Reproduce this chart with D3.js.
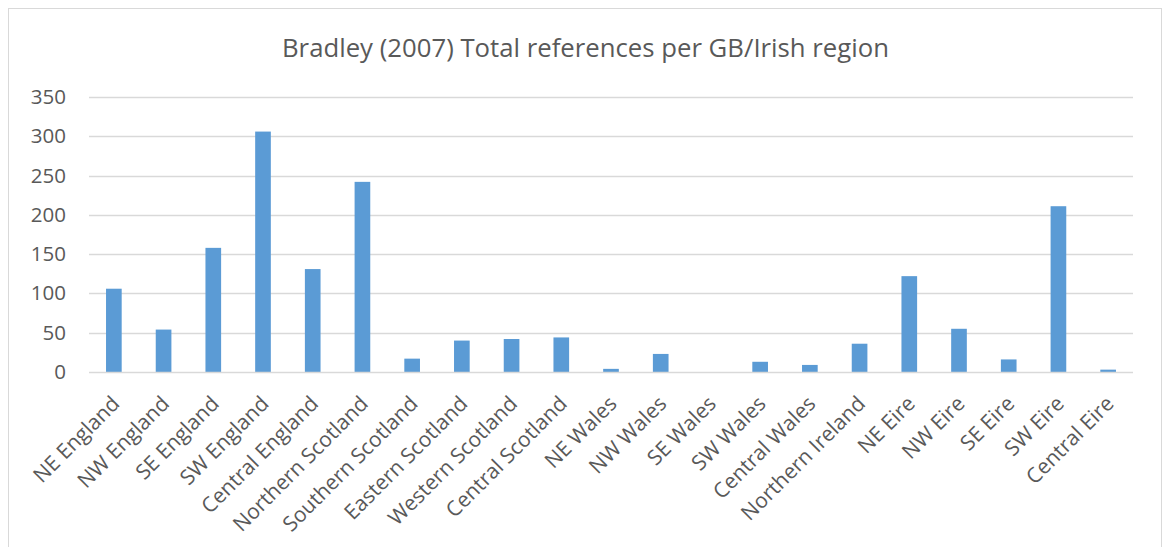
<!DOCTYPE html>
<html>
<head>
<meta charset="utf-8">
<script src="https://cdn.jsdelivr.net/npm/d3@7"></script>
<style>
  html, body { margin: 0; padding: 0; background: #fff; }
  svg { display: block; }
  text { font-family: "Open Sans", "Noto Sans", sans-serif; fill: #595959; }
</style>
</head>
<body>
<svg id="chart" width="1167" height="547"></svg>
<script>
// Regions of Great Britain and Ireland
const regions = [
  "NE England", "NW England", "SE England", "SW England", "Central England",
  "Northern Scotland", "Southern Scotland", "Eastern Scotland", "Western Scotland",
  "Central Scotland", "NE Wales", "NW Wales", "SE Wales", "SW Wales",
  "Central Wales", "Northern Ireland", "NE Eire", "NW Eire", "SE Eire",
  "SW Eire", "Central Eire"
];

// Total references per region
const references = [
  106, 54, 158, 306, 131,
  242, 17, 40, 42,
  44, 4, 23, 0, 13,
  9, 36, 122, 55, 16,
  211, 3
];

const yTicks = [0, 50, 100, 150, 200, 250, 300, 350];

const chartTitle = "Bradley (2007) Total references per GB/Irish region";

const W = 1167, H = 547;
const margin = { left: 89, right: 34, top: 97, bottom: 174 };
const svg = d3.select("#chart");

// chart area frame
svg.append("rect")
  .attr("x", 8.5).attr("y", 8.5)
  .attr("width", 1153).attr("height", 560)
  .attr("fill", "#fff")
  .attr("stroke", "#d9d9d9").attr("stroke-width", 1);

const x = d3.scaleBand()
  .domain(regions)
  .range([margin.left, W - margin.right])
  .paddingInner(0.685)
  .paddingOuter(0.3425);

const y = d3.scaleLinear()
  .domain([0, 350])
  .range([H - margin.bottom - 1, margin.top]);

// horizontal gridlines
svg.append("g")
  .selectAll("line")
  .data(yTicks.filter(t => t > 0))
  .join("line")
  .attr("x1", margin.left).attr("x2", W - margin.right)
  .attr("y1", d => Math.round(y(d)) + 0.5)
  .attr("y2", d => Math.round(y(d)) + 0.5)
  .attr("stroke", "#d9d9d9").attr("stroke-width", 1.3);

// y axis labels
const yAxis = d3.axisLeft(y).tickValues(yTicks).tickSize(0).tickPadding(0);
const yG = svg.append("g")
  .attr("transform", `translate(${66},0)`)
  .call(yAxis);
yG.select(".domain").remove();
yG.selectAll("text")
  .style("font-family", '"Open Sans", sans-serif')
  .style("font-size", "20.5px")
  .attr("fill", "#595959");

// bars
svg.append("g")
  .selectAll("rect")
  .data(references)
  .join("rect")
  .attr("x", (d, i) => x(regions[i]))
  .attr("width", x.bandwidth())
  .attr("y", d => y(d))
  .attr("height", d => y(0) - y(d))
  .attr("fill", "#5b9bd5");

// category axis
svg.append("line")
  .attr("x1", margin.left).attr("x2", W - margin.right)
  .attr("y1", Math.round(y(0)) + 0.5).attr("y2", Math.round(y(0)) + 0.5)
  .attr("stroke", "#d9d9d9").attr("stroke-width", 1.5);

// rotated category labels
svg.append("g")
  .selectAll("text")
  .data(regions)
  .join("text")
  .attr("transform", d => `translate(${x(d) + x.bandwidth() / 2 + 7},${y(0) + 33}) rotate(-45)`)
  .attr("text-anchor", "end")
  .style("font-size", "21px")
  .text(d => d);

// title
svg.append("text")
  .attr("x", 585.5).attr("y", 56.5)
  .attr("text-anchor", "middle")
  .attr("textLength", 607)
  .attr("lengthAdjust", "spacingAndGlyphs")
  .style("font-size", "26px")
  .text(chartTitle);
</script>
</body>
</html>
